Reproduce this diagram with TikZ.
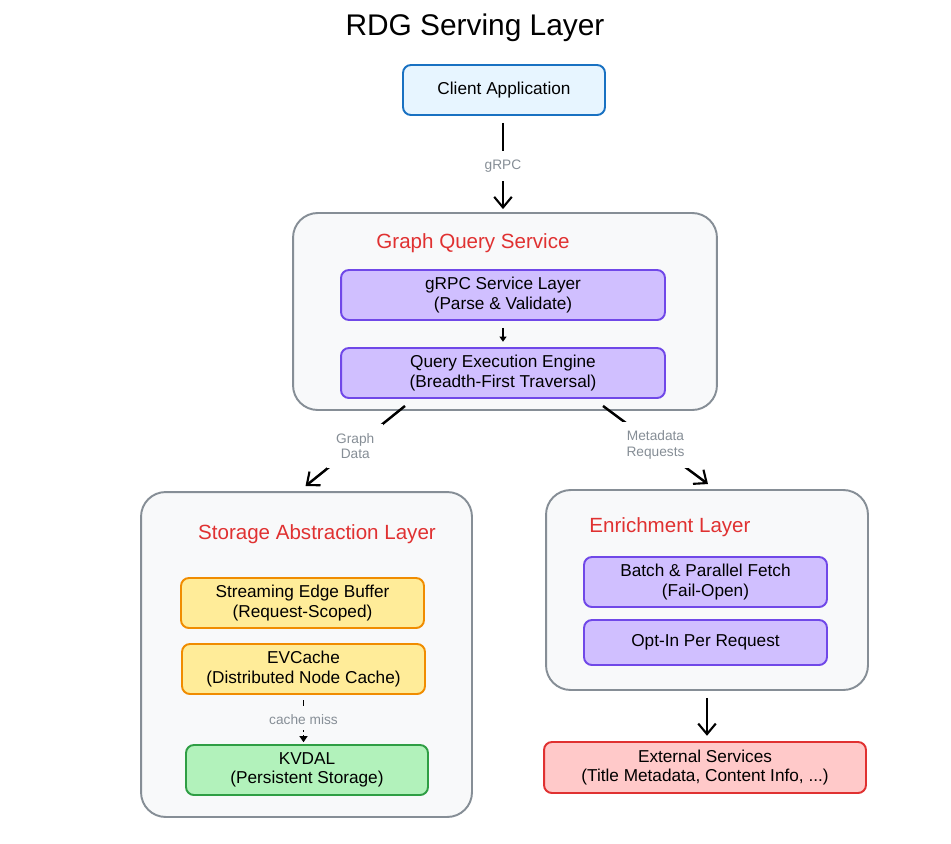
\documentclass[tikz,border=0pt]{standalone}
\usepackage{fontspec}
\setmainfont{Liberation Sans}
\usetikzlibrary{arrows.meta,positioning,calc}
\definecolor{CliBlue}{HTML}{1971C2}
\definecolor{CliFill}{HTML}{E7F5FF}
\definecolor{LayerGray}{HTML}{868E96}
\definecolor{LayerBG}{HTML}{F8F9FA}
\definecolor{Violet}{HTML}{7048E8}
\definecolor{VioletBG}{HTML}{D0BFFF}
\definecolor{Amber}{HTML}{F08C00}
\definecolor{AmberBG}{HTML}{FFEC99}
\definecolor{Leaf}{HTML}{2F9E44}
\definecolor{LeafBG}{HTML}{B2F2BB}
\definecolor{TitleRed}{HTML}{E03131}
\definecolor{RedBG}{HTML}{FFC9C9}

\tikzset{
  card/.style={draw,line width=1.1pt,rounded corners=4.5pt,minimum width=4.86cm,minimum height=1cm,
    align=center,inner sep=2pt,font=\fontsize{9.8}{11}\selectfont},
  layer/.style={draw=LayerGray,fill=LayerBG,line width=1.1pt,rounded corners=14pt},
  layertitle/.style={text=TitleRed,font=\fontsize{11.7}{13}\selectfont},
  flow/.style={line width=1.4pt,-{Straight Barb[length=6pt,width=10pt,line width=1.2pt]}},
  lbl/.style={fill=white,text=LayerGray,align=center,inner sep=3pt,font=\fontsize{7.8}{9}\selectfont},
}

\begin{document}
\begin{tikzpicture}[x=0.02cm,y=-0.02cm]
  \useasboundingbox (0,0) rectangle (951,843);
  \node[font=\fontsize{17}{19}\selectfont] (title) at (475,28) {RDG Serving Layer};

  \node[layer,minimum width=8.48cm,minimum height=3.94cm] (gqs) at (505,311.5) {};
  \node[layer,minimum width=6.62cm,minimum height=6.5cm] (sal) at (306.5,654.5) {};
  \node[layer,minimum width=6.44cm,minimum height=4cm] (enr) at (707,590) {};
  \node[layertitle] (gqsT) at (473,243) {Graph Query Service};
  \node[layertitle] (salT) at (317,534) {Storage Abstraction Layer};
  \node[layertitle] (enrT) at (670,527) {Enrichment Layer};

  \node[card,draw=CliBlue,fill=CliFill,minimum width=4.04cm] (cli) at (504,90) {Client Application};
  \node[card,draw=Violet,fill=VioletBG,minimum width=6.48cm] (grpc) at (503,295) {gRPC Service Layer\\(Parse \& Validate)};
  \node[card,draw=Violet,fill=VioletBG,minimum width=6.48cm] (qee) at (503,373) {Query Execution Engine\\(Breadth-First Traversal)};
  \node[card,draw=Amber,fill=AmberBG] (seb) at (302.5,603) {Streaming Edge Buffer\\(Request-Scoped)};
  \node[card,draw=Amber,fill=AmberBG] (evc) at (303.5,669) {EVCache\\(Distributed Node Cache)};
  \node[card,draw=Leaf,fill=LeafBG,minimum width=4.84cm] (kvd) at (307,770) {KVDAL\\(Persistent Storage)};
  \node[card,draw=Violet,fill=VioletBG] (bpf) at (705.5,582) {Batch \& Parallel Fetch\\(Fail-Open)};
  \node[card,draw=Violet,fill=VioletBG,minimum height=0.9cm] (oip) at (705.5,642.5) {Opt-In Per Request};
  \node[card,draw=TitleRed,fill=RedBG,minimum width=6.44cm,minimum height=1.02cm] (ext) at (705,767.5) {External Services\\(Title Metadata, Content Info, ...)};

  \draw[flow] ($(cli.south)+(-1,7)$) -- node[lbl,inner sep=5pt] {gRPC} ($(gqs.north)+(-2,-3)$);
  \draw[line width=0.8pt,-{Triangle[length=3pt,width=4pt]},shorten <=4pt,shorten >=3pt] (grpc) -- (qee);
  \draw[flow] ($(gqs.south)+(-100,-5)$) -- node[lbl,inner sep=5pt] {Graph\\Data} ($(sal.north)+(-1,-5)$);
  \draw[flow] ($(gqs.south)+(98,-5)$) -- node[lbl,inner sep=5pt] {Metadata\\Requests} ($(enr.north)+(1,-5)$);
  \draw[line width=0.9pt,dash pattern=on 3pt off 2pt,-{Triangle[length=3.5pt,width=4.5pt]},shorten <=3pt,shorten >=1pt]
    (evc) -- node[lbl,fill=LayerBG,inner sep=3pt] {cache miss} (evc |- kvd.north);
  \draw[flow,shorten <=4pt,shorten >=3pt] (enr) -- (enr |- ext.north);
\end{tikzpicture}
\end{document}
